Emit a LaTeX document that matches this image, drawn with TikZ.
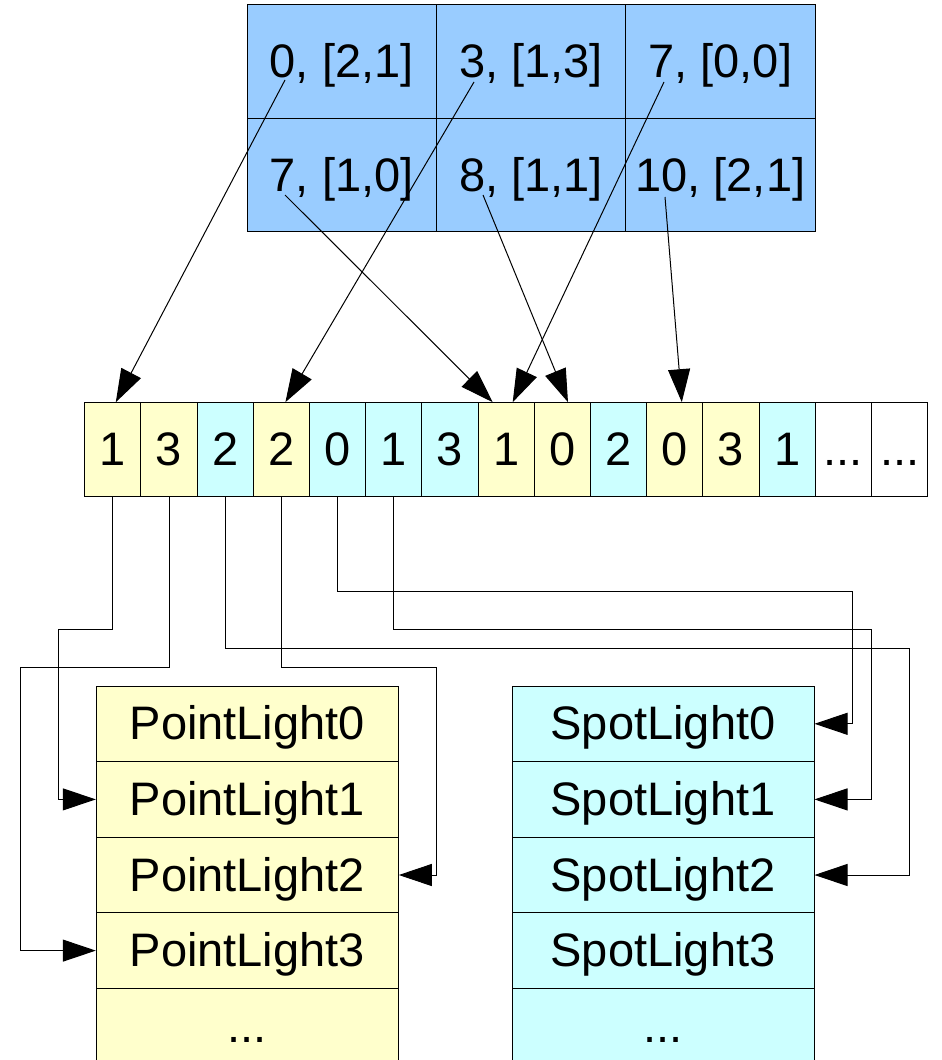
\documentclass[tikz,border=0pt]{standalone}
\usepackage{fontspec}
\setmainfont{Liberation Sans}
\usetikzlibrary{arrows.meta}
\definecolor{lblue}{RGB}{153,204,255}
\definecolor{lyellow}{RGB}{255,255,204}
\definecolor{lcyan}{RGB}{204,255,255}

\tikzset{
  cell/.style={draw=black, line width=0.5pt, inner sep=0pt,
    font=\fontsize{23.5}{28}\selectfont, text height=21pt, text depth=5pt},
  gridbox/.style={cell, fill=lblue, minimum width=94.67pt, minimum height=56.75pt},
  slotbox/.style={cell, minimum width=28.1pt, minimum height=47pt},
  lightbox/.style={cell, minimum width=151pt, minimum height=37.8pt},
  conn/.style={line width=0.5pt, -{Triangle[length=16.5pt,width=11pt]}}
}

\begin{document}
\begin{tikzpicture}[x=0.5pt,y=-0.5pt]
  \useasboundingbox (0,0) rectangle (942,1060);

  % cluster grid
  \node[gridbox] (g00) at (341.67,61.5) {0, [2,1]};
  \node[gridbox] (g01) at (531,61.5)    {3, [1,3]};
  \node[gridbox] (g02) at (720.33,61.5) {7, [0,0]};
  \node[gridbox] (g10) at (341.67,175)  {7, [1,0]};
  \node[gridbox] (g11) at (531,175)     {8, [1,1]};
  \node[gridbox] (g12) at (720.33,175)  {10, [2,1]};

  % light index list
  \node[slotbox, fill=lyellow] (a0)  at (112.8,449.7) {1};
  \node[slotbox, fill=lyellow] (a1)  at (169.0,449.7) {3};
  \node[slotbox, fill=lcyan]   (a2)  at (225.2,449.7) {2};
  \node[slotbox, fill=lyellow] (a3)  at (281.4,449.7) {2};
  \node[slotbox, fill=lcyan]   (a4)  at (337.6,449.7) {0};
  \node[slotbox, fill=lcyan]   (a5)  at (393.8,449.7) {1};
  \node[slotbox, fill=lcyan]   (a6)  at (450.0,449.7) {3};
  \node[slotbox, fill=lyellow] (a7)  at (506.2,449.7) {1};
  \node[slotbox, fill=lyellow] (a8)  at (562.4,449.7) {0};
  \node[slotbox, fill=lcyan]   (a9)  at (618.6,449.7) {2};
  \node[slotbox, fill=lyellow] (a10) at (674.8,449.7) {0};
  \node[slotbox, fill=lyellow] (a11) at (731.0,449.7) {3};
  \node[slotbox, fill=lcyan]   (a12) at (787.2,449.7) {1};
  \node[slotbox, fill=white]   (a13) at (843.4,449.7) {...};
  \node[slotbox, fill=white]   (a14) at (899.6,449.7) {...};

  % light arrays
  \node[lightbox, fill=lyellow] (p0) at (247.3,723.8)  {PointLight0};
  \node[lightbox, fill=lyellow] (p1) at (247.3,799.4)  {PointLight1};
  \node[lightbox, fill=lyellow] (p2) at (247.3,875.0)  {PointLight2};
  \node[lightbox, fill=lyellow] (p3) at (247.3,950.6)  {PointLight3};
  \node[lightbox, fill=lyellow] (p4) at (247.3,1026.2) {...};

  \node[lightbox, fill=lcyan] (s0) at (663,723.8)  {SpotLight0};
  \node[lightbox, fill=lcyan] (s1) at (663,799.4)  {SpotLight1};
  \node[lightbox, fill=lcyan] (s2) at (663,875.0)  {SpotLight2};
  \node[lightbox, fill=lcyan] (s3) at (663,950.6)  {SpotLight3};
  \node[lightbox, fill=lcyan] (s4) at (663,1026.2) {...};

  % cluster -> offset
  \coordinate (o00) at (285,80);
  \coordinate (o01) at (474,82);
  \coordinate (o02) at (664,82);
  \coordinate (o10) at (285,195);
  \coordinate (o11) at (483,195);
  \coordinate (o12) at (665,197);
  \draw[conn] (o00) -- ([xshift=1.5pt]a0.north);
  \draw[conn] (o01) -- ([xshift=2pt]a3.north);
  \draw[conn] (o02) -- ([xshift=3.25pt]a7.north);
  \draw[conn] (o10) -- ([xshift=-6.75pt]a7.north);
  \draw[conn] (o11) -- ([xshift=2.8pt]a8.north);
  \draw[conn] (o12) -- ([xshift=3.5pt]a10.north);

  % index -> light
  \draw[conn] (a0.south) |- ++(-54.5,132.3) |- (p1.west);
  \draw[conn] (a1.south) |- ++(-148.3,170.3) |- (p3.west);
  \draw[conn] (a2.south) |- ++(683.8,151.3) |- (s2.east);
  \draw[conn] (a3.south) |- ++(154.9,170.3) |- (p2.east);
  \draw[conn] (a4.south) |- ++(514.4,94.3) |- (s0.east);
  \draw[conn] (a5.south) |- ++(477.2,132.3) |- (s1.east);
\end{tikzpicture}
\end{document}
